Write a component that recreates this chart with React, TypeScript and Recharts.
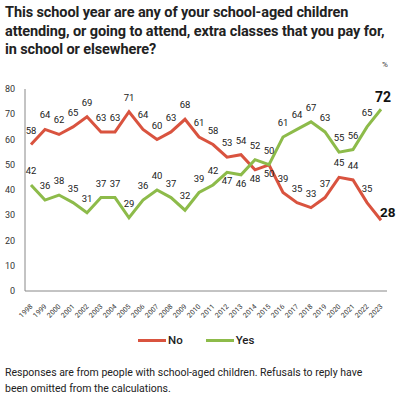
import React from 'react';
import { LineChart, Line, XAxis, YAxis } from 'recharts';

const years = ['1998','1999','2000','2001','2002','2003','2004','2005','2006','2007','2008','2009','2010','2011','2012','2013','2014','2015','2016','2017','2018','2019','2020','2021','2022','2023'];
const noValues = [58,64,62,65,69,63,63,71,64,60,63,68,61,58,53,54,48,50,39,35,33,37,45,44,35,28];
const yesValues = [42,36,38,35,31,37,37,29,36,40,37,32,39,42,47,46,52,50,61,64,67,63,55,56,65,72];
const yTicks = [0,10,20,30,40,50,60,70,80];

const noBelow = new Set([16, 17]);
const yesBelow = new Set([14, 15]);

const RED = '#d9533f';
const GREEN = '#8dbb4a';
const FONT = 'Roboto, "Noto Sans", sans-serif';

const data = years.map((y, i) => ({ year: y, no: noValues[i], yes: yesValues[i] }));

const makeLabel = (below: Set<number>, series: 'no' | 'yes') => (props: any) => {
  const { x, y, value, index } = props;
  const last = index === years.length - 1;
  if (last) {
    if (series === 'yes') {
      return (
        <text x={x + 2} y={y - 7} textAnchor="middle" fontSize={14} fontWeight={700} fill="#111" fontFamily={FONT}>
          {value}
        </text>
      );
    }
    return (
      <text x={x - 1} y={y - 3} textAnchor="start" fontSize={13.5} fontWeight={700} fill="#111" fontFamily={FONT}>
        {value}
      </text>
    );
  }
  const dy = below.has(index) ? 12 : -11;
  return (
    <text x={x} y={y + dy} textAnchor="middle" fontSize={9.5} fill="#222" fontFamily={FONT}>
      {value}
    </text>
  );
};

const XTick = (props: any) => {
  const { x, y, payload } = props;
  return (
    <text x={x + 2} y={y + 8} transform={`rotate(-45 ${x + 2} ${y + 8})`} textAnchor="end" fontSize={7} fill="#333" fontFamily={FONT}>
      {payload.value}
    </text>
  );
};

export default function App() {
  return (
    <div style={{ position: 'absolute', left: 0, top: 0, width: 397, height: 397, background: '#fff', fontFamily: FONT }}>
      <div style={{ position: 'absolute', left: 5, top: 4, width: 392, whiteSpace: 'nowrap', fontSize: 14.5, letterSpacing: -0.1, lineHeight: '18.5px', fontWeight: 700, color: '#222' }}>
        This school year are any of your school-aged children<br />
        attending, or going to attend, extra classes that you pay for,<br />
        in school or elsewhere?
      </div>
      <div style={{ position: 'absolute', left: 382, top: 60, fontSize: 8, lineHeight: '9px', color: '#333' }}>%</div>
      <div style={{ position: 'absolute', left: 0, top: 0 }}>
        <LineChart width={397} height={397} data={data} margin={{ top: 89, right: 10, bottom: 0, left: 0 }}>
          <XAxis
            dataKey="year"
            interval={0}
            height={106}
            padding={{ left: 6, right: 6 }}
            tickLine={false}
            axisLine={{ stroke: '#888', strokeWidth: 1 }}
            tick={<XTick />}
          />
          <YAxis
            width={25}
            domain={[0, 80]}
            ticks={yTicks}
            tickLine={false}
            tickMargin={4}
            axisLine={{ stroke: '#888', strokeWidth: 1 }}
            tick={{ fontSize: 9, fill: '#333', fontFamily: FONT }}
          />
          <Line dataKey="no" stroke={RED} strokeWidth={3} dot={false} isAnimationActive={false} label={makeLabel(noBelow, 'no')} />
          <Line dataKey="yes" stroke={GREEN} strokeWidth={3} dot={false} isAnimationActive={false} label={makeLabel(yesBelow, 'yes')} />
        </LineChart>
      </div>
      <div style={{ position: 'absolute', top: 333, left: 138, display: 'flex', alignItems: 'center', fontSize: 11.5, fontWeight: 500, color: '#222' }}>
        <span style={{ display: 'inline-block', width: 28, height: 3, background: RED }} />
        <span style={{ marginLeft: 2 }}>No</span>
        <span style={{ display: 'inline-block', width: 28, height: 3, background: GREEN, marginLeft: 23 }} />
        <span style={{ marginLeft: 2 }}>Yes</span>
      </div>
      <div style={{ position: 'absolute', left: 5, top: 365, width: 365, fontSize: 10.5, lineHeight: '16px', color: '#222' }}>
        Responses are from people with school-aged children. Refusals to reply have been omitted from the calculations.
      </div>
    </div>
  );
}
